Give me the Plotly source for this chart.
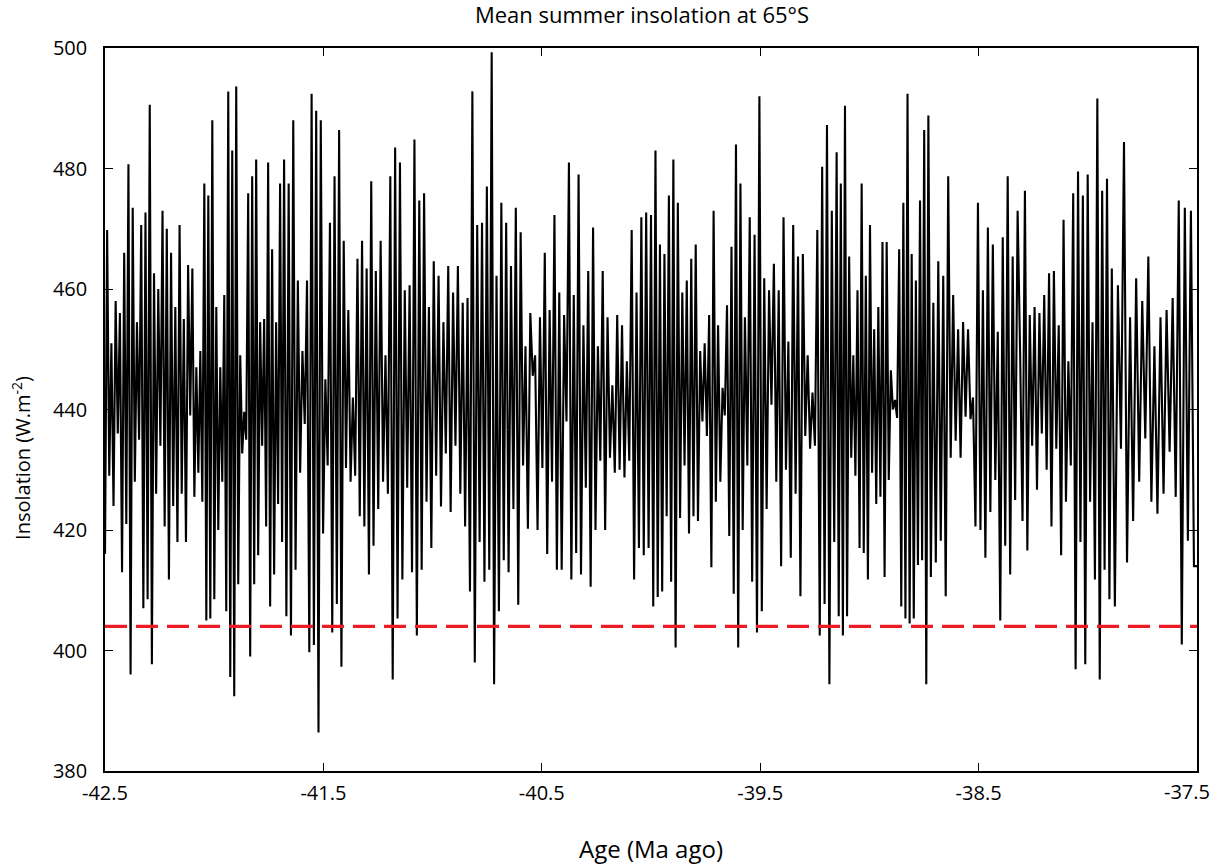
import plotly.graph_objects as go

# Age blocks (Ma) and insolation extremes (W/m2),
# alternating peaks / troughs inside each block
block_edges = [-42.5, -42.1, -41.68, -41.26, -40.84, -40.42, -40.0,
               -39.57, -39.15, -38.73, -38.31, -37.89, -37.5]

ins_b1 = [416, 469.8, 429, 451, 424, 458, 436, 456, 413, 466, 421, 480.7, 396, 473.5,
          428, 454.5, 435, 470.6, 407, 472.7, 408.5, 490.6, 397.7, 462.6, 426, 460,
          434, 473, 420.6, 470, 411.8, 466, 424, 457, 418, 470.6, 426, 455, 418, 464, 439]
ins_b2 = [463.4, 425.5, 447, 429.5, 449.7, 424.7, 477.5, 405, 475.5, 405.3, 488, 408.5,
          457, 420, 447, 428, 459, 406.5, 492.8, 395.6, 483, 392.4, 493.6, 411, 449,
          432.7, 439.6, 435, 475.9, 399, 478.7, 411, 481.5, 415.8, 454.5, 434, 455,
          420.6, 481, 407.3, 466.6, 412.6, 454.5, 424.3, 477.5, 418]
ins_b3 = [481.5, 405.7, 477.5, 402.5, 488, 413.4, 461.4, 429.5, 449.7, 437.6, 461.4,
          399.7, 492.4, 400.9, 489.6, 386.4, 488, 419.4, 445, 430.7, 471, 403, 478.7,
          407.7, 486.4, 397.3, 468, 430.3, 456.5, 428, 442, 429, 465, 422.3, 468, 420.6,
          463.4, 412.6, 477.9, 417.4]
ins_b4 = [463, 423.5, 468, 428, 449, 426, 478.7, 395.2, 483.5, 405.3, 481, 411.8, 459.8,
          427, 460.6, 413, 484.8, 402.5, 474.7, 413.4, 475.9, 424.7, 457, 417, 464.6,
          429, 462.2, 423.9, 454.5, 432.7, 463.8, 423, 459.4, 434, 463.8, 426, 457.7, 420.6]
ins_b5 = [458.5, 409.8, 492.8, 398, 470.6, 418, 471, 411.4, 477, 413.4, 499.3, 394.4,
          462.2, 406.5, 474.3, 415, 471, 413, 463.8, 423.5, 473.5, 407.6, 469.4, 430.7,
          450.5, 420.2, 456, 445.6, 449, 420, 455.3, 430.3, 466, 416, 456.5, 428, 472.3, 413.4]
ins_b6 = [459.4, 413.4, 455.7, 438, 481, 411.8, 459, 416.2, 479, 412.6, 454, 427, 463,
          410.6, 470.2, 420, 450.5, 431.5, 463, 420, 455.3, 432, 444, 429.5, 455.7, 430,
          454, 428.7, 448, 431.5, 469.8, 411.8, 459.4, 417, 471.9, 415.8, 472.7, 417]
ins_b7 = [472.3, 407.3, 483, 408.9, 467.4, 409.8, 465.8, 422.3, 475.5, 411.4, 481.5,
          400.5, 474.3, 422, 459.4, 430.7, 461.4, 419.4, 465, 422.3, 467.4, 421.5, 449.7,
          438, 451, 435.6, 455.7, 413.8, 473, 424.7, 454, 428, 443.6, 439, 457.3, 419,
          467, 409.4, 484, 400.5, 477.5, 420]
ins_b8 = [455.3, 430.7, 471.9, 411.4, 469, 403, 492, 406.5, 461.8, 423.5, 459.8, 440.8,
          464.2, 428, 459.8, 414, 471.9, 430, 451.3, 415.4, 470.6, 426, 465.4, 409,
          465.8, 435.6, 449, 433.5, 442.8, 434, 469.8, 402.5, 480.3, 407.7, 487.2, 394.4,
          473, 418]
ins_b9 = [482.7, 405.7, 477.5, 402.5, 490.4, 405.7, 465.4, 432, 449, 429, 459.8, 417,
          477.5, 416.2, 462.2, 411.8, 470.6, 429.5, 453.3, 424.3, 457, 425.5, 467.8,
          412.2, 467.8, 428.3, 446.5, 440, 441.6, 438.6, 466.6, 407.3, 474.3, 405.3,
          492.4, 404.5, 465.8, 405.3, 461.4, 414.2, 474.7, 415, 486.4, 394.4]
ins_b10 = [488.8, 412.2, 457.7, 414.6, 464.6, 418.2, 462.2, 409, 478.7, 432, 459, 434.8,
           453.3, 432, 454.5, 438.8, 453.3, 438.4, 442, 420.6, 474.3, 420, 459.8, 415.4,
           470.2, 423, 467.4, 428.3, 452.9, 405, 468.6, 417.4, 478.7, 412.6, 465.4, 425, 473]
ins_b11 = [449.7, 421.5, 476.3, 416.6, 455.7, 434, 457, 426.7, 456, 436, 459, 430, 462.6,
           420.6, 463, 433.5, 454, 415.8, 471.5, 424.7, 448, 430.7, 475.9, 396.9, 479.5,
           418, 475.5, 397.7, 479, 424.7, 454.5, 411.8, 491.6, 395.2, 476.3, 413.4,
           478.3, 408.5]
ins_b12 = [463.4, 407.3, 460.6, 433.5, 484.4, 414.6, 455.3, 421.5, 461.8, 428, 458,
           435.2, 465.4, 424.7, 450.5, 422.7, 455.3, 426, 456.5, 433, 458.5, 425.5,
           474.7, 401, 473.5, 418.2, 473, 414]

blocks = [ins_b1, ins_b2, ins_b3, ins_b4, ins_b5, ins_b6,
          ins_b7, ins_b8, ins_b9, ins_b10, ins_b11, ins_b12]

threshold = 404
x_ticks = [-42.5, -41.5, -40.5, -39.5, -38.5, -37.5]

age = []
ins = []
for i, vals in enumerate(blocks):
    a0, a1 = block_edges[i], block_edges[i + 1]
    n = len(vals)
    for k, v in enumerate(vals):
        age.append(a0 + (a1 - a0) * k / n)
        ins.append(v)
age.append(block_edges[-1])
ins.append(ins_b12[-1])

font = "Open Sans, Arial, sans-serif"
W, H = 1210, 865

fig = go.Figure()
fig.add_trace(go.Scatter(x=age, y=ins, mode="lines",
                         line=dict(color="black", width=2.1), showlegend=False))
fig.add_trace(go.Scatter(x=[block_edges[0], block_edges[-1]], y=[threshold, threshold],
                         mode="lines", line=dict(color="#ed1c24", width=3.2, dash="22px,9px"),
                         showlegend=False))

# last tick label sits inside the page edge, as in the original
tick_text = ["%.1f" % t for t in x_ticks]
fig.add_annotation(x=x_ticks[-1], y=0, xref="x", yref="paper", yanchor="top",
                   text=tick_text[-1], showarrow=False, xshift=-10, yshift=-5,
                   font=dict(size=20))
tick_text[-1] = ""

# y label, placed a bit below the axis middle like the original
fig.add_annotation(x=-0.076, y=0.433, xref="paper", yref="paper",
                   text="Insolation (W.m<sup>-2</sup>)", textangle=-90, showarrow=False,
                   xanchor="center", yanchor="middle", font=dict(size=20))

fig.update_layout(
    width=W, height=H,
    margin=dict(l=105, r=13, t=48, b=94),
    paper_bgcolor="white", plot_bgcolor="white",
    font=dict(family=font, size=20, color="black"),
    title=dict(text="Mean summer insolation at 65°S", x=642 / W, xref="container",
               xanchor="center", y=1 - 15 / H, yanchor="middle",
               font=dict(size=22)),
    xaxis=dict(range=[-42.5, -37.5], tickvals=x_ticks, ticktext=tick_text,
               ticks="inside", ticklen=8, tickcolor="black", showgrid=False,
               zeroline=False, showline=True, linecolor="black", linewidth=1.5,
               mirror="ticks", automargin=False, ticklabelstandoff=3,
               title=dict(text="Age (Ma ago)", standoff=48)),
    yaxis=dict(range=[380, 500], dtick=20, ticks="inside", ticklen=8, tickcolor="black",
               showgrid=False, zeroline=False, showline=True, linecolor="black",
               linewidth=1.5, mirror="ticks", automargin=False, ticklabelstandoff=12),
)

fig.write_html("out.html", config={"displayModeBar": False},
               post_script="document.body.style.margin='0';")
